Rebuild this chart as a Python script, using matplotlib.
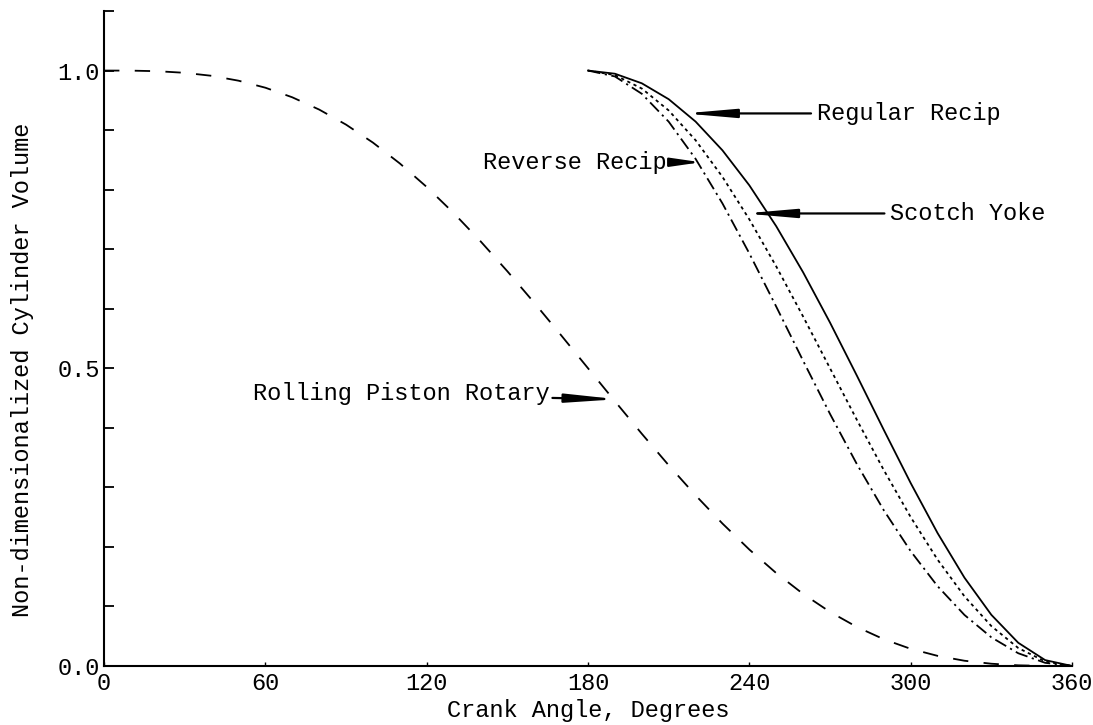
import numpy as np
import matplotlib
matplotlib.use("Agg")
import matplotlib.pyplot as plt

plt.rcParams['font.family'] = ['Liberation Mono', 'DejaVu Sans Mono']

# rolling piston rotary (dashed), read every 10 degrees
rp_angle = [0, 10, 20, 30, 40, 50, 60, 70, 80, 90, 100, 110, 120, 130, 140, 150, 160, 170, 180,
            190, 200, 210, 220, 230, 240, 250, 260, 270, 280, 290, 300, 310, 320, 330, 340, 350, 360]
rp_vol = [1.0, 0.9999, 0.9989, 0.9962, 0.9912, 0.9830, 0.9712, 0.9551, 0.9345, 0.9092, 0.8790,
          0.8440, 0.8045, 0.7608, 0.7134, 0.6629, 0.6100, 0.5554, 0.5000, 0.4446, 0.3900, 0.3371,
          0.2866, 0.2392, 0.1955, 0.1560, 0.1210, 0.0908, 0.0655, 0.0449, 0.0288, 0.0170, 0.0088,
          0.0038, 0.0011, 0.0001, 0.0]

# reciprocating curves, 180-360 degrees
rc_angle = [180, 190, 200, 210, 220, 230, 240, 250, 260, 270, 280, 290, 300, 310, 320, 330, 340, 350, 360]
regular_vol = [1.0, 0.9947, 0.9786, 0.9519, 0.9143, 0.8660, 0.8072, 0.7385, 0.6611, 0.5767,
               0.4875, 0.3965, 0.3072, 0.2232, 0.1483, 0.0859, 0.0390, 0.0099, 0.0]
scotch_vol = [1.0, 0.9924, 0.9698, 0.9330, 0.8830, 0.8214, 0.7500, 0.6710, 0.5868, 0.5000,
              0.4132, 0.3290, 0.2500, 0.1786, 0.1170, 0.0670, 0.0302, 0.0076, 0.0]
reverse_vol = [1.0, 0.9901, 0.9610, 0.9141, 0.8517, 0.7768, 0.6928, 0.6035, 0.5125, 0.4233,
               0.3389, 0.2615, 0.1928, 0.1340, 0.0857, 0.0481, 0.0214, 0.0053, 0.0]

xtick_vals = [0, 60, 120, 180, 240, 300, 360]
xtick_labels = ["0", "60", "120", "180", "240", "300", "360"]
ytick_vals = [0.0, 0.1, 0.2, 0.3, 0.4, 0.5, 0.6, 0.7, 0.8, 0.9, 1.0, 1.1]
ytick_labels = ["0.0", "", "", "", "", "0.5", "", "", "", "", "1.0", ""]

fs = 17

fig = plt.figure(figsize=(10.93, 7.25), dpi=100)
ax = fig.add_axes([0.0952, 0.0814, 0.8856, 0.9034])

lw = 1.3
ax.plot(rp_angle, rp_vol, color="black", lw=lw, dashes=(8.5, 8.5))
ax.plot(rc_angle, regular_vol, color="black", lw=lw, linestyle="-")
ax.plot(rc_angle, scotch_vol, color="black", lw=lw, dashes=(1.8, 2.0))
ax.plot(rc_angle, reverse_vol, color="black", lw=lw, dashes=(7, 2.5, 1.2, 2.5))

ax.set_xlim(0, 360)
ax.set_ylim(0, 1.1)
ax.set_xticks(xtick_vals)
ax.set_xticklabels(xtick_labels)
ax.set_yticks(ytick_vals)
ax.set_yticklabels(ytick_labels)
ax.tick_params(axis="y", direction="in", length=7, width=1.3, labelsize=fs, pad=3)
ax.tick_params(axis="x", direction="in", length=3, width=1.0, labelsize=fs, pad=4)

for s in ["top", "right"]:
    ax.spines[s].set_visible(False)
for s in ["left", "bottom"]:
    ax.spines[s].set_linewidth(1.5)

ax.set_xlabel("Crank Angle, Degrees", fontsize=fs)
ax.set_ylabel("Non-dimensionalized Cylinder Volume", fontsize=fs)
ax.xaxis.set_label_coords(0.5, -0.05)
ax.yaxis.set_label_coords(-0.072, 0.452)

arrow = dict(arrowstyle="-|>,head_length=1.5,head_width=0.13", color="black",
             lw=1.6, mutation_scale=20, shrinkA=2, shrinkB=0)

ax.annotate("Regular Recip", xy=(215.8, 0.928), xytext=(265, 0.928),
            ha="left", va="center", fontsize=fs, arrowprops=arrow)
ax.annotate("Scotch Yoke", xy=(238.2, 0.760), xytext=(292.3, 0.760),
            ha="left", va="center", fontsize=fs, arrowprops=arrow)
ax.annotate("Reverse Recip", xy=(222.0, 0.846), xytext=(209.4, 0.846),
            ha="right", va="center", fontsize=fs,
            arrowprops=dict(arrow, arrowstyle="-|>,head_length=0.9,head_width=0.13", shrinkA=1))
ax.annotate("Rolling Piston Rotary", xy=(190.8, 0.448), xytext=(55.4, 0.458),
            ha="left", va="center", fontsize=fs,
            arrowprops=dict(arrow, relpos=(1.0, 0.3), shrinkA=0))

fig.savefig("out.png", dpi=100)
